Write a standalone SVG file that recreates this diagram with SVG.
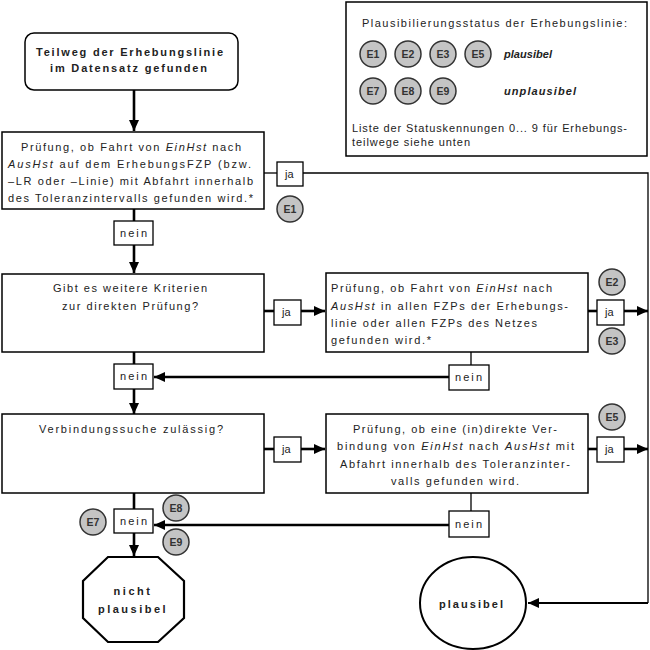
<svg xmlns="http://www.w3.org/2000/svg" width="650" height="650" viewBox="0 0 650 650">
<style>
.box{fill:#fff;stroke:#000;stroke-width:1.5}
.lbl{fill:#fff;stroke:#000;stroke-width:1.3}
.t{font-family:"Liberation Sans",Arial,sans-serif;font-size:11px;fill:#222}
.b{font-weight:bold}
.i{font-style:italic}
.c{fill:#c4c4c4;stroke:#333;stroke-width:1.5}
.ct{font-family:"Liberation Sans",Arial,sans-serif;font-size:10.5px;font-weight:bold;fill:#333;text-anchor:middle}
.thick{stroke:#000;stroke-width:2.6;fill:none}
.thin{stroke:#000;stroke-width:1.3;fill:none}
.mid{stroke:#000;stroke-width:1.8;fill:none}
</style>
<defs>
<marker id="ah" markerUnits="userSpaceOnUse" markerWidth="12" markerHeight="12" viewBox="0 0 12 12" refX="11" refY="6" orient="auto">
<path d="M0,1 L11,6 L0,11 Z" fill="#000"/>
</marker>
</defs>

<g id="connectors">
<line class="thick" x1="134" y1="90" x2="134" y2="131" marker-end="url(#ah)"/>
<line class="thin" x1="264" y1="173" x2="277" y2="173"/>
<polyline class="thin" points="303,173 648,173 648,603"/>
<line class="mid" x1="648" y1="603" x2="528" y2="603" marker-end="url(#ah)"/>
<line class="thick" x1="134" y1="209" x2="134" y2="221"/>
<line class="thick" x1="134" y1="245" x2="134" y2="273" marker-end="url(#ah)"/>
<line class="thick" x1="264" y1="311" x2="274" y2="311"/>
<line class="thick" x1="301" y1="311" x2="325" y2="311" marker-end="url(#ah)"/>
<line class="thick" x1="588" y1="311" x2="597" y2="311"/>
<line class="thick" x1="624" y1="311" x2="648" y2="311" marker-end="url(#ah)"/>
<line class="thin" x1="471" y1="352" x2="471" y2="365"/>
<line class="thick" x1="449" y1="377" x2="154" y2="377" marker-end="url(#ah)"/>
<line class="thick" x1="134" y1="352" x2="134" y2="364"/>
<line class="thick" x1="134" y1="389" x2="134" y2="414" marker-end="url(#ah)"/>
<line class="thick" x1="264" y1="449" x2="274" y2="449"/>
<line class="thick" x1="301" y1="449" x2="325" y2="449" marker-end="url(#ah)"/>
<line class="thick" x1="588" y1="449" x2="597" y2="449"/>
<line class="thick" x1="624" y1="449" x2="648" y2="449" marker-end="url(#ah)"/>
<line class="thin" x1="471" y1="493" x2="471" y2="511"/>
<line class="thick" x1="449" y1="525" x2="154" y2="525" marker-end="url(#ah)"/>
<line class="thick" x1="134" y1="493" x2="134" y2="509"/>
<line class="thick" x1="134" y1="533" x2="134" y2="556" marker-end="url(#ah)"/>
</g>

<g id="legend">
<rect class="box" x="346" y="2" width="301" height="154"/>
<text class="t" x="362" y="27" textLength="265" lengthAdjust="spacing">Plausibilierungsstatus der Erhebungslinie:</text>
<ellipse class="c" cx="373" cy="54" rx="13" ry="13"/><text class="ct" x="373" y="58">E1</text>
<ellipse class="c" cx="408" cy="54" rx="13" ry="13"/><text class="ct" x="408" y="58">E2</text>
<ellipse class="c" cx="443" cy="54" rx="13" ry="13"/><text class="ct" x="443" y="58">E3</text>
<ellipse class="c" cx="478" cy="54" rx="13" ry="13"/><text class="ct" x="478" y="58">E5</text>
<text class="t b i" x="504" y="58" textLength="48" lengthAdjust="spacing">plausibel</text>
<ellipse class="c" cx="373" cy="91" rx="13" ry="13"/><text class="ct" x="373" y="95">E7</text>
<ellipse class="c" cx="408" cy="91" rx="13" ry="13"/><text class="ct" x="408" y="95">E8</text>
<ellipse class="c" cx="443" cy="91" rx="13" ry="13"/><text class="ct" x="443" y="95">E9</text>
<text class="t b i" x="504" y="95" textLength="72" lengthAdjust="spacing">unplausibel</text>
<text class="t" x="352" y="132" textLength="275" lengthAdjust="spacing">Liste der Statuskennungen 0... 9 für Erhebungs-</text>
<text class="t" x="352" y="146" textLength="118" lengthAdjust="spacing">teilwege siehe unten</text>
</g>

<g id="start">
<rect class="box" x="25" y="33" width="213" height="57" rx="9"/>
<text class="t b" x="36" y="56" textLength="187" lengthAdjust="spacing">Teilweg der Erhebungslinie</text>
<text class="t b" x="50" y="72" textLength="157" lengthAdjust="spacing">im Datensatz gefunden</text>
</g>

<g id="check1">
<rect class="box" x="2" y="132" width="262" height="77"/>
<text class="t" x="21" y="151" textLength="220" lengthAdjust="spacing">Prüfung, ob Fahrt von <tspan class="i">EinHst</tspan> nach</text>
<text class="t" x="8" y="168" textLength="243" lengthAdjust="spacing"><tspan class="i">AusHst</tspan> auf dem ErhebungsFZP (bzw.</text>
<text class="t" x="8" y="185" textLength="245" lengthAdjust="spacing">–LR oder –Linie) mit Abfahrt innerhalb</text>
<text class="t" x="8" y="202" textLength="245" lengthAdjust="spacing">des Toleranzintervalls gefunden wird.*</text>
</g>

<g id="ja1"><rect class="lbl" x="277" y="162" width="26" height="24"/><text class="t" x="285" y="178">ja</text></g>
<g id="e1"><ellipse class="c" cx="290" cy="209" rx="13" ry="13"/><text class="ct" x="290" y="213">E1</text></g>
<g id="nein1"><rect class="lbl" x="114" y="221" width="39" height="24"/><text class="t" x="120" y="237" textLength="27" lengthAdjust="spacing">nein</text></g>

<g id="check2">
<rect class="box" x="2" y="274" width="262" height="78"/>
<text class="t" x="53" y="292" textLength="154" lengthAdjust="spacing">Gibt es weitere Kriterien</text>
<text class="t" x="62" y="310" textLength="136" lengthAdjust="spacing">zur direkten Prüfung?</text>
</g>
<g id="ja2"><rect class="lbl" x="274" y="300" width="27" height="25"/><text class="t" x="282" y="316">ja</text></g>

<g id="check3">
<rect class="box" x="326" y="273" width="262" height="79"/>
<text class="t" x="331" y="292" textLength="221" lengthAdjust="spacing">Prüfung, ob Fahrt von <tspan class="i">EinHst</tspan> nach</text>
<text class="t" x="331" y="310" textLength="237" lengthAdjust="spacing"><tspan class="i">AusHst</tspan> in allen FZPs der Erhebungs-</text>
<text class="t" x="331" y="327" textLength="206" lengthAdjust="spacing">linie oder allen FZPs des Netzes</text>
<text class="t" x="331" y="344" textLength="100" lengthAdjust="spacing">gefunden wird.*</text>
</g>
<g id="e2"><ellipse class="c" cx="612" cy="282" rx="13" ry="13"/><text class="ct" x="612" y="286">E2</text></g>
<g id="ja3"><rect class="lbl" x="597" y="300" width="27" height="25"/><text class="t" x="605" y="316">ja</text></g>
<g id="e3"><ellipse class="c" cx="612" cy="341" rx="13" ry="13"/><text class="ct" x="612" y="345">E3</text></g>
<g id="nein3"><rect class="lbl" x="449" y="365" width="40" height="25"/><text class="t" x="455" y="381" textLength="27" lengthAdjust="spacing">nein</text></g>
<g id="nein2"><rect class="lbl" x="114" y="364" width="39" height="25"/><text class="t" x="120" y="380" textLength="27" lengthAdjust="spacing">nein</text></g>

<g id="check4">
<rect class="box" x="2" y="414" width="262" height="79"/>
<text class="t" x="39" y="433" textLength="184" lengthAdjust="spacing">Verbindungssuche zulässig?</text>
</g>
<g id="ja4"><rect class="lbl" x="274" y="437" width="27" height="25"/><text class="t" x="282" y="453">ja</text></g>

<g id="check5">
<rect class="box" x="326" y="414" width="262" height="79"/>
<text class="t" x="353" y="433" textLength="204" lengthAdjust="spacing">Prüfung, ob eine (in)direkte Ver-</text>
<text class="t" x="337" y="450" textLength="237" lengthAdjust="spacing">bindung von <tspan class="i">EinHst</tspan> nach <tspan class="i">AusHst</tspan> mit</text>
<text class="t" x="340" y="468" textLength="230" lengthAdjust="spacing">Abfahrt innerhalb des Toleranzinter-</text>
<text class="t" x="391" y="485" textLength="128" lengthAdjust="spacing">valls gefunden wird.</text>
</g>
<g id="e5"><ellipse class="c" cx="612" cy="417" rx="13" ry="13"/><text class="ct" x="612" y="421">E5</text></g>
<g id="ja5"><rect class="lbl" x="597" y="437" width="27" height="25"/><text class="t" x="605" y="453">ja</text></g>
<g id="nein5"><rect class="lbl" x="449" y="511" width="40" height="26"/><text class="t" x="455" y="528" textLength="27" lengthAdjust="spacing">nein</text></g>

<g id="nein4"><rect class="lbl" x="114" y="509" width="39" height="24"/><text class="t" x="120" y="525" textLength="27" lengthAdjust="spacing">nein</text></g>
<g id="e7"><ellipse class="c" cx="93" cy="522" rx="13" ry="13"/><text class="ct" x="93" y="526">E7</text></g>
<g id="e8"><ellipse class="c" cx="176" cy="508" rx="13" ry="13"/><text class="ct" x="176" y="512">E8</text></g>
<g id="e9"><ellipse class="c" cx="176" cy="542" rx="13" ry="13"/><text class="ct" x="176" y="546">E9</text></g>

<g id="nicht-plausibel">
<polygon class="box" points="108,557 158,557 184,581 184,618 158,642 108,642 83,618 83,581" style="stroke-width:2.2"/>
<text class="t b" x="133" y="595" text-anchor="middle" letter-spacing="2.5">nicht</text>
<text class="t b" x="133" y="613" text-anchor="middle" letter-spacing="2.5">plausibel</text>
</g>

<g id="plausibel">
<ellipse class="box" cx="473" cy="603" rx="53" ry="46" style="stroke-width:2"/>
<text class="t b" x="439" y="608" textLength="64" lengthAdjust="spacing">plausibel</text>
</g>
</svg>
